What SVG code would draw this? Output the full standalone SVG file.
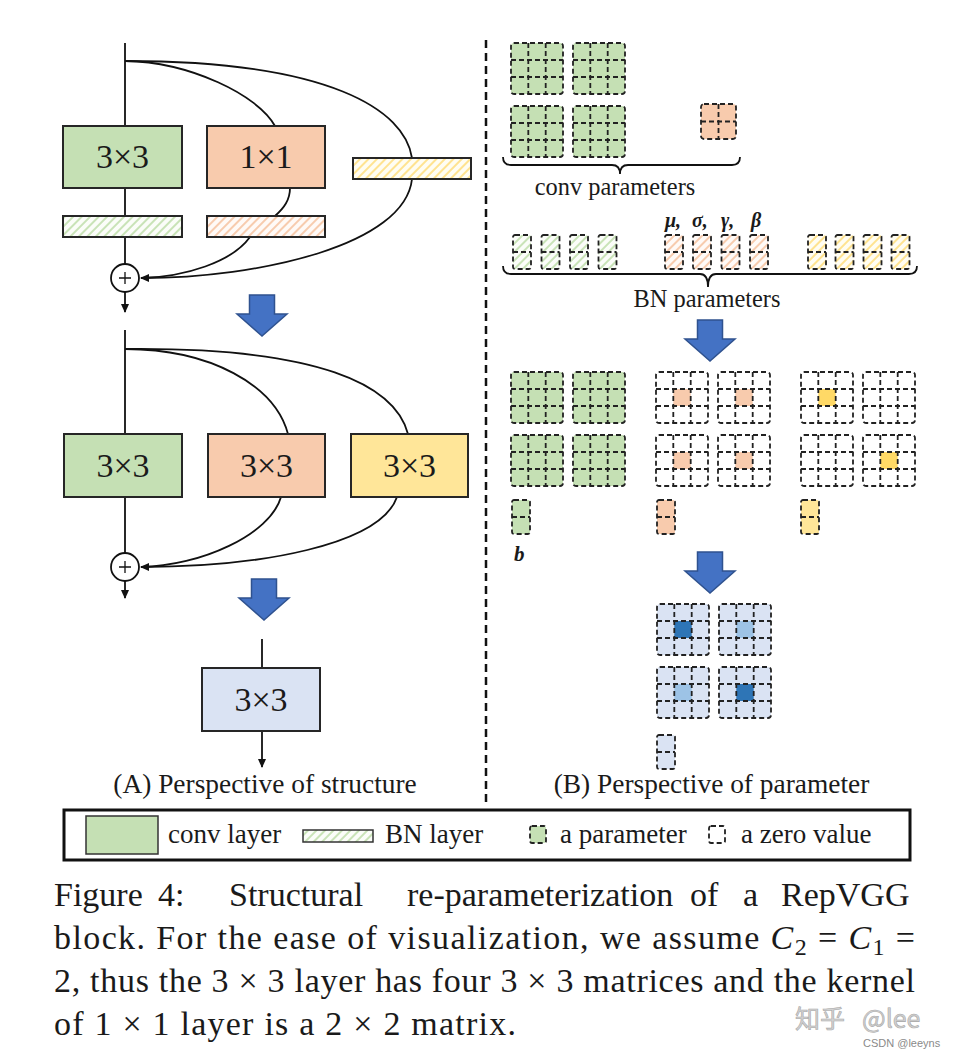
<svg xmlns="http://www.w3.org/2000/svg" xmlns:xlink="http://www.w3.org/1999/xlink" width="954" height="1059" viewBox="0 0 954 1059">
<style>
.box{stroke:#262626;stroke-width:2}
.ln{fill:none;stroke:#111;stroke-width:1.8}
.dash{fill:none;stroke:#222;stroke-width:1.8;stroke-dasharray:5 3}
.serif{font-family:"Liberation Serif","Times New Roman",serif;fill:#1a1a1a}
.blue{fill:#4472c4;stroke:#2f528f;stroke-width:1.5}
.fg{fill:#c5e0b4}.fo{fill:#f8cbad}.fy{fill:#ffe699}.fb{fill:#dae3f3}.fw{fill:#fff}
.hc{fill:#f8cbad}.yc{fill:#ffd966}.db{fill:#2e75b6}.lb{fill:#9dc3e6}
.big{font-size:34px}
.greek{font-size:20px;font-weight:bold;font-style:italic}
.wm{font-family:"Noto Sans CJK SC","Noto Sans",sans-serif;font-size:25px;fill:#d2d2d2;stroke:#a8a8a8;stroke-width:0.6}
</style>
<defs>
<pattern id="hg" width="6" height="6" patternUnits="userSpaceOnUse" patternTransform="rotate(45)"><rect width="6" height="6" fill="#fbfdf9"/><line x1="1" y1="0" x2="1" y2="6" stroke="#b4d89c" stroke-width="1.4"/></pattern>
<pattern id="ho" width="6" height="6" patternUnits="userSpaceOnUse" patternTransform="rotate(45)"><rect width="6" height="6" fill="#fffaf7"/><line x1="1" y1="0" x2="1" y2="6" stroke="#f4b88f" stroke-width="1.4"/></pattern>
<pattern id="hy" width="6" height="6" patternUnits="userSpaceOnUse" patternTransform="rotate(45)"><rect width="6" height="6" fill="#fffdf3"/><line x1="1" y1="0" x2="1" y2="6" stroke="#ffd966" stroke-width="1.4"/></pattern>
<marker id="ah" markerWidth="9" markerHeight="8" refX="8" refY="4" orient="auto" markerUnits="userSpaceOnUse"><path d="M0,0 L9,4 L0,8 Z" fill="#111"/></marker>
<polygon id="barrow" points="-12.5,0 12.5,0 12.5,19 25,19 0,41 -25,19 -12.5,19"/>
<g id="g3"><rect width="52" height="51" rx="3" class="dash"/><path class="dash" d="M17.3,0V51M34.7,0V51M0,17H52M0,34H52"/></g>
<rect id="b3" width="52" height="51" rx="3"/>
<g id="g2"><rect width="35" height="35" rx="3" class="dash"/><path class="dash" d="M17.5,0V35M0,17.5H35"/></g>
<g id="p2"><rect width="18" height="34" rx="2" class="dash"/><path class="dash" d="M0,17H18"/></g>
<rect id="pb" width="18" height="34" rx="2"/>
<rect id="cc" x="17.3" y="17" width="17.4" height="17"/>
</defs>
<rect width="954" height="1059" fill="#fff"/>

<!-- divider -->
<line x1="486" y1="40" x2="486" y2="806" stroke="#111" stroke-width="2.5" stroke-dasharray="8 5"/>

<!-- connectors -->
<g id="connectors">
  <path class="ln" d="M125,43V126"/>
  <path class="ln" d="M125,61C190,62 258,95 275,126"/>
  <path class="ln" d="M125,61C330,61 405,110 412,158"/>
  <path class="ln" d="M125,188V216"/>
  <path class="ln" d="M125,237V264"/>
  <path class="ln" d="M290,188C290,200 284,208 275,216"/>
  <path class="ln" d="M250,237C232,262 185,277 141,278"/>
  <path class="ln" d="M412,179C405,245 260,278 141,278" marker-end="url(#ah)"/>
  <path class="ln" d="M125,292V312" marker-end="url(#ah)"/>

  <path class="ln" d="M125,330V434"/>
  <path class="ln" d="M125,349C210,349 275,385 288,434"/>
  <path class="ln" d="M125,349C320,347 395,385 408,434"/>
  <path class="ln" d="M125,497V553"/>
  <path class="ln" d="M281,497C270,535 200,566 141,567"/>
  <path class="ln" d="M397,497C380,545 260,567 141,567" marker-end="url(#ah)"/>
  <path class="ln" d="M125,581V598" marker-end="url(#ah)"/>

  <path class="ln" d="M262,639V668"/>
  <path class="ln" d="M262,731V767" marker-end="url(#ah)"/>

  <use href="#barrow" class="blue" transform="translate(262,295)"/>
  <use href="#barrow" class="blue" transform="translate(264,579)"/>
  <use href="#barrow" class="blue" transform="translate(710,320)"/>
  <use href="#barrow" class="blue" transform="translate(710,552)"/>

  <path class="ln" d="M503,157Q503,165 511,165L612,165Q620,165 620,174Q620,165 628,165L732,165Q740,165 740,157"/>
  <path class="ln" d="M503,266Q503,274 511,274L700,274Q708,274 708,287Q708,274 716,274L909,274Q917,274 917,266"/>
</g>

<!-- structure A: training block -->
<g id="conv3x3_a"><rect class="box fg" x="63" y="126" width="119" height="62"/><text class="serif big" x="122.5" y="168" text-anchor="middle">3×3</text></g>
<g id="conv1x1_a"><rect class="box fo" x="207" y="126" width="118" height="62"/><text class="serif big" x="266" y="168" text-anchor="middle">1×1</text></g>
<g id="bn_id_a"><rect class="box" fill="url(#hy)" x="353" y="158" width="118" height="21"/></g>
<g id="bn3_a"><rect class="box" fill="url(#hg)" x="63" y="216" width="119" height="21"/></g>
<g id="bn1_a"><rect class="box" fill="url(#ho)" x="207" y="216" width="118" height="21"/></g>
<g id="add_a"><circle cx="125" cy="278" r="14" fill="#fff" stroke="#111" stroke-width="1.8"/><path d="M119,278H131M125,272V284" stroke="#111" stroke-width="1.3"/></g>

<!-- structure B -->
<g id="conv3x3_b1"><rect class="box fg" x="64" y="434" width="118" height="63"/><text class="serif big" x="123" y="477" text-anchor="middle">3×3</text></g>
<g id="conv3x3_b2"><rect class="box fo" x="208" y="434" width="117" height="63"/><text class="serif big" x="266.5" y="477" text-anchor="middle">3×3</text></g>
<g id="conv3x3_b3"><rect class="box fy" x="351" y="434" width="117" height="63"/><text class="serif big" x="409.5" y="477" text-anchor="middle">3×3</text></g>
<g id="add_b"><circle cx="125" cy="567" r="14" fill="#fff" stroke="#111" stroke-width="1.8"/><path d="M119,567H131M125,561V573" stroke="#111" stroke-width="1.3"/></g>

<!-- structure C -->
<g id="conv3x3_c"><rect class="box fb" x="202" y="668" width="118" height="63"/><text class="serif big" x="261" y="711" text-anchor="middle">3×3</text></g>

<text class="serif" x="265" y="793" font-size="27.4" text-anchor="middle">(A) Perspective of structure</text>

<!-- B: conv parameters -->
<g id="conv_params">
  <g transform="translate(511,43)"><use href="#b3" class="fg"/><use href="#g3"/></g>
  <g transform="translate(573,43)"><use href="#b3" class="fg"/><use href="#g3"/></g>
  <g transform="translate(511,106)"><use href="#b3" class="fg"/><use href="#g3"/></g>
  <g transform="translate(573,106)"><use href="#b3" class="fg"/><use href="#g3"/></g>
  <g transform="translate(701,104)"><rect width="35" height="35" rx="3" class="fo"/><use href="#g2"/></g>
  <text class="serif" x="615" y="195" font-size="24.4" text-anchor="middle">conv parameters</text>
</g>

<!-- BN parameters -->
<g id="bn_params">
  <text class="serif greek" x="665" y="227">μ,</text>
  <text class="serif greek" x="692" y="227">σ,</text>
  <text class="serif greek" x="721" y="227">γ,</text>
  <text class="serif greek" x="751" y="227">β</text>
  <g transform="translate(513,235)"><use href="#pb" fill="url(#hg)"/><use href="#p2"/></g>
  <g transform="translate(541.5,235)"><use href="#pb" fill="url(#hg)"/><use href="#p2"/></g>
  <g transform="translate(570,235)"><use href="#pb" fill="url(#hg)"/><use href="#p2"/></g>
  <g transform="translate(598.5,235)"><use href="#pb" fill="url(#hg)"/><use href="#p2"/></g>
  <g transform="translate(665,235)"><use href="#pb" fill="url(#ho)"/><use href="#p2"/></g>
  <g transform="translate(693,235)"><use href="#pb" fill="url(#ho)"/><use href="#p2"/></g>
  <g transform="translate(721.5,235)"><use href="#pb" fill="url(#ho)"/><use href="#p2"/></g>
  <g transform="translate(750,235)"><use href="#pb" fill="url(#ho)"/><use href="#p2"/></g>
  <g transform="translate(808,235)"><use href="#pb" fill="url(#hy)"/><use href="#p2"/></g>
  <g transform="translate(835.5,235)"><use href="#pb" fill="url(#hy)"/><use href="#p2"/></g>
  <g transform="translate(863.5,235)"><use href="#pb" fill="url(#hy)"/><use href="#p2"/></g>
  <g transform="translate(891.5,235)"><use href="#pb" fill="url(#hy)"/><use href="#p2"/></g>
  <text class="serif" x="707" y="307" font-size="24.4" text-anchor="middle">BN parameters</text>
</g>

<!-- merged per-branch parameters -->
<g id="branch_params">
  <g transform="translate(511,372)"><use href="#b3" class="fg"/><use href="#g3"/></g>
  <g transform="translate(573,372)"><use href="#b3" class="fg"/><use href="#g3"/></g>
  <g transform="translate(511,435)"><use href="#b3" class="fg"/><use href="#g3"/></g>
  <g transform="translate(573,435)"><use href="#b3" class="fg"/><use href="#g3"/></g>

  <g transform="translate(656,372)"><use href="#b3" class="fw"/><use href="#cc" class="hc"/><use href="#g3"/></g>
  <g transform="translate(718,372)"><use href="#b3" class="fw"/><use href="#cc" class="hc"/><use href="#g3"/></g>
  <g transform="translate(656,435)"><use href="#b3" class="fw"/><use href="#cc" class="hc"/><use href="#g3"/></g>
  <g transform="translate(718,435)"><use href="#b3" class="fw"/><use href="#cc" class="hc"/><use href="#g3"/></g>

  <g transform="translate(801,372)"><use href="#b3" class="fw"/><use href="#cc" class="yc"/><use href="#g3"/></g>
  <g transform="translate(863,372)"><use href="#b3" class="fw"/><use href="#g3"/></g>
  <g transform="translate(801,435)"><use href="#b3" class="fw"/><use href="#g3"/></g>
  <g transform="translate(863,435)"><use href="#b3" class="fw"/><use href="#cc" class="yc"/><use href="#g3"/></g>

  <g transform="translate(512,500)"><use href="#pb" class="fg"/><use href="#p2"/></g>
  <g transform="translate(657,500)"><use href="#pb" class="fo"/><use href="#p2"/></g>
  <g transform="translate(801,500)"><use href="#pb" class="fy"/><use href="#p2"/></g>
  <text class="serif" x="514" y="561" font-size="21" font-weight="bold" font-style="italic">b</text>
</g>

<!-- final fused parameters -->
<g id="fused_params">
  <g transform="translate(657,604)"><use href="#b3" class="fb"/><use href="#cc" class="db"/><use href="#g3"/></g>
  <g transform="translate(719,604)"><use href="#b3" class="fb"/><use href="#cc" class="lb"/><use href="#g3"/></g>
  <g transform="translate(657,667)"><use href="#b3" class="fb"/><use href="#cc" class="lb"/><use href="#g3"/></g>
  <g transform="translate(719,667)"><use href="#b3" class="fb"/><use href="#cc" class="db"/><use href="#g3"/></g>
  <g transform="translate(657,735)"><use href="#pb" class="fb"/><use href="#p2"/></g>
</g>

<text class="serif" x="711.5" y="793" font-size="27.4" text-anchor="middle">(B) Perspective of parameter</text>

<!-- legend -->
<g id="legend">
  <rect x="64" y="810" width="846" height="50" fill="none" stroke="#111" stroke-width="3"/>
  <rect x="86" y="816" width="72" height="38" class="fg" stroke="#333" stroke-width="1.5"/>
  <text class="serif" x="168" y="843" font-size="27">conv layer</text>
  <rect x="303" y="830" width="70" height="12" fill="url(#hg)" stroke="#333" stroke-width="1.5"/>
  <text class="serif" x="385" y="843" font-size="27">BN layer</text>
  <rect x="530" y="826" width="16" height="17" rx="2" class="fg"/>
  <rect x="530" y="826" width="16" height="17" rx="2" class="dash"/>
  <text class="serif" x="560" y="843" font-size="27">a parameter</text>
  <rect x="709" y="826" width="16" height="17" rx="2" class="dash"/>
  <text class="serif" x="741" y="843" font-size="27">a zero value</text>
</g>

<!-- caption -->
<g id="caption" class="serif" font-size="34">
  <text y="906"><tspan x="54">Figure</tspan><tspan x="158">4:</tspan><tspan x="229">Structural</tspan><tspan x="407">re-parameterization</tspan><tspan x="690">of</tspan><tspan x="743">a</tspan><tspan x="781">RepVGG</tspan></text>
  <text x="54" y="949" textLength="861" lengthAdjust="spacing">block. For the ease of visualization, we assume <tspan font-style="italic">C</tspan><tspan font-size="24" dy="6">2</tspan><tspan dy="-6"> = </tspan><tspan font-style="italic">C</tspan><tspan font-size="24" dy="6">1</tspan><tspan dy="-6"> =</tspan></text>
  <text x="54" y="992" textLength="861" lengthAdjust="spacing">2, thus the 3 × 3 layer has four 3 × 3 matrices and the kernel</text>
  <text x="54" y="1035" textLength="462" lengthAdjust="spacing">of 1 × 1 layer is a 2 × 2 matrix.</text>
</g>

<!-- watermark -->
<g id="watermark">
  <text class="wm" x="795" y="1028">知乎</text>
  <text class="wm" x="862" y="1028">@lee</text>
  <text x="863" y="1047" font-family="'Liberation Sans',Arial,sans-serif" font-size="11" fill="#8a8a8a">CSDN @leeyns</text>
</g>
</svg>
